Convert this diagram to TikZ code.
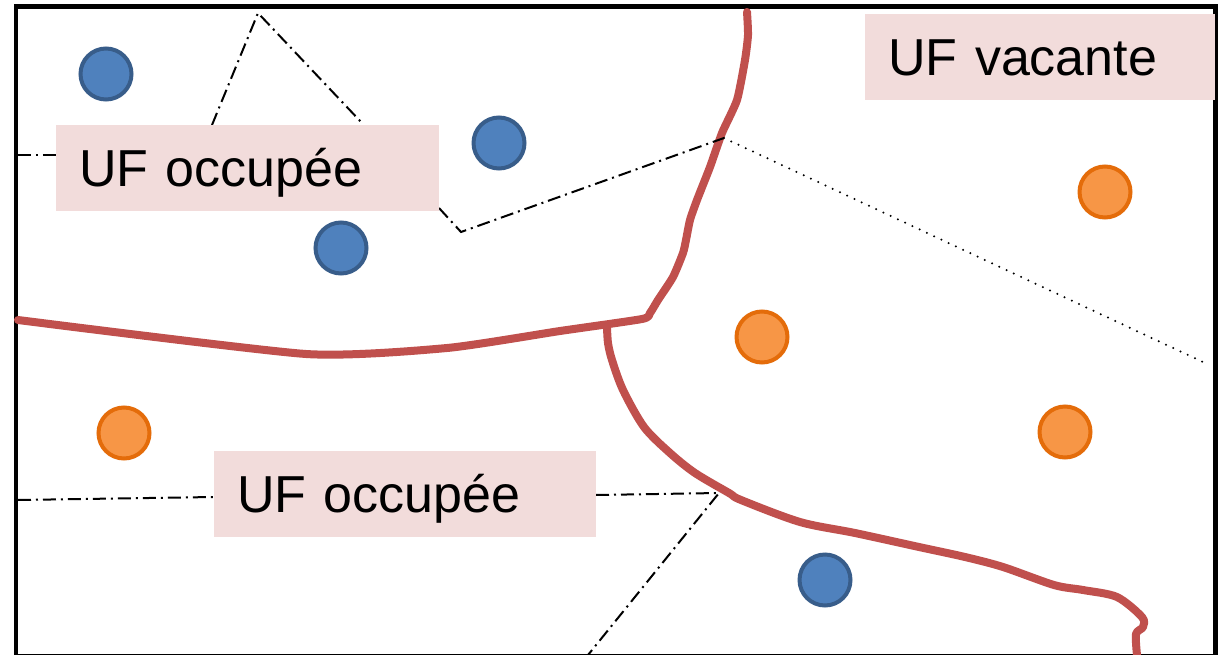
\documentclass[tikz,border=0pt]{standalone}
\usepackage{fontspec}
\setmainfont{Liberation Sans}
\definecolor{uffill}{HTML}{F2DCDB}
\definecolor{bordred}{HTML}{C0504D}
\definecolor{bluefill}{HTML}{4F81BD}
\definecolor{blueline}{HTML}{385D8A}
\definecolor{orfill}{HTML}{F79646}
\definecolor{orline}{HTML}{E46C0A}
\begin{document}
\begin{tikzpicture}[x=0.02cm,y=-0.02cm,
  frame/.style={line width=0.1cm},
  limit/.style={bordred,line width=0.16cm,line cap=round,line join=round},
  dashdot/.style={line width=0.04cm,dash pattern=on 0.26cm off 0.1cm on 0.04cm off 0.1cm},
  dotline/.style={line width=0.045cm,line cap=round,dash pattern=on 0cm off 0.16cm},
  ufbox/.style={fill=uffill,anchor=north west,inner xsep=0.46cm,inner ysep=0pt,
     minimum height=1.72cm,align=left,text height=21.2pt,text depth=0pt,
     font=\fontsize{29.6}{34}\selectfont},
  bluept/.style={circle,fill=bluefill,draw=blueline,line width=0.08cm,minimum size=1.02cm,inner sep=0pt},
  orpt/.style={circle,fill=orfill,draw=orline,line width=0.08cm,minimum size=1.02cm,inner sep=0pt}]
\useasboundingbox (0,0) rectangle (1220,655);
\fill[white] (0,0) rectangle (1220,655);
% frame
\draw[frame] (16,7) -- (1215.5,7) -- (1215.5,656) -- (16,656) -- cycle;
% red boundaries
\draw[limit] plot[smooth,tension=0.35] coordinates {(18,320) (306,354) (447,348) (560,331) (642,319) (650,313) (658,300) (673,277) (683,253) (686,240) (690,220) (697,200) (710,167) (722,133) (737,100) (745,60) (748,35) (747,12)};
\draw[limit] plot[smooth,tension=0.5] coordinates {(607,327) (608,343) (612,360) (623,390) (644,427) (670,453) (695,473) (729,493) (741,500) (800,522) (855,533) (919,547) (965,557) (1003,567) (1054,585) (1083,590) (1117,597) (1142,617) (1143,627) (1136,634) (1137,655)};
% junction points
\coordinate (fl1) at (18,155);
\coordinate (apex) at (258,13);
\coordinate (b1) at (212,125);
\coordinate (b2) at (362,123);
\coordinate (b3) at (439,208);
\coordinate (k1) at (461,232);
\coordinate (j1) at (724,138);
\coordinate (e1) at (1203,362);
\coordinate (fl2) at (18,500);
\coordinate (b4) at (214,497);
\coordinate (b5) at (596,495);
\coordinate (j2) at (719,493);
\coordinate (e2) at (588,655);
% dash-dot limits
\draw[dashdot] (fl1) -- (60,155);
\draw[dashdot] (b1) -- (apex) -- (b2);
\draw[dashdot] (b3) -- (k1) -- (j1);
\draw[dotline] (j1) -- (e1);
\draw[dashdot] (fl2) -- (b4);
\draw[dashdot] (b5) -- (j2) -- (e2);
% labels
\node[ufbox,text width=6.74cm] (occ1) at (56,125) {UF occupée};
\node[ufbox,text width=6.08cm] (vac) at (865,14) {UF vacante};
\node[ufbox,text width=6.72cm] (occ2) at (214,451) {UF occupée};
% points
\node[bluept] (p1) at (106,74) {};
\node[bluept] (p2) at (499,143) {};
\node[bluept] (p3) at (341,248) {};
\node[bluept] (p4) at (825,580) {};
\node[orpt] (q1) at (1105,192) {};
\node[orpt] (q2) at (762,337) {};
\node[orpt] (q3) at (1065,432) {};
\node[orpt] (q4) at (124,433) {};
\end{tikzpicture}
\end{document}
